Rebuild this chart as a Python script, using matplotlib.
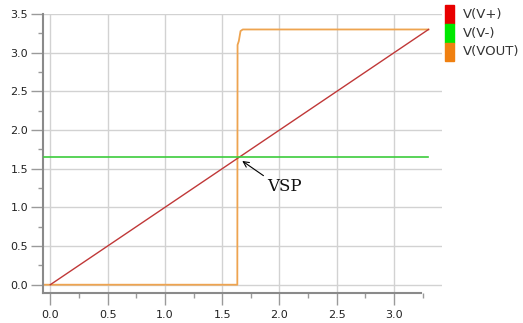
import matplotlib
matplotlib.use("Agg")
import matplotlib.pyplot as plt
from matplotlib.patches import Rectangle
from matplotlib.ticker import MultipleLocator

# Data
vplus_x = [0.0, 3.3]
vplus_y = [0.0, 3.3]
vminus_x = [-0.066, 3.3]
vminus_y = [1.65, 1.65]
vout_x = [-0.066, 1.632, 1.634, 1.645, 1.66, 1.68, 3.3]
vout_y = [0.0, 0.0, 3.10, 3.15, 3.28, 3.30, 3.30]
series_names = ["V(V+)", "V(V-)", "V(VOUT)"]
legend_colors = ["#e80000", "#00e800", "#f08010"]
line_colors = ["#c03838", "#3ccc3c", "#eea450"]
xticks = [0.0, 0.5, 1.0, 1.5, 2.0, 2.5, 3.0]
yticks = [0.0, 0.5, 1.0, 1.5, 2.0, 2.5, 3.0, 3.5]

W, H = 523, 323
fig = plt.figure(figsize=(W / 100, H / 100), dpi=100)
fig.patch.set_facecolor("white")

left, right = 42.7, 442.0
top, bottom = 14.0, 293.3
ax = fig.add_axes([left / W, (H - bottom) / H, (right - left) / W, (bottom - top) / H])
ax.set_xlim(-0.0663, 3.418)
ax.set_ylim(-0.111, 3.5)

ax.plot(vplus_x, vplus_y, color=line_colors[0], lw=1.0, zorder=3)
ax.plot(vminus_x, vminus_y, color=line_colors[1], lw=1.2, zorder=3)
ax.plot(vout_x, vout_y, color=line_colors[2], lw=1.3, zorder=2)

ax.set_xticks(xticks)
ax.set_yticks(yticks)
ax.set_xticklabels([f"{v:.1f}" for v in xticks])
ax.set_yticklabels([f"{v:.1f}" for v in yticks])
ax.xaxis.set_minor_locator(MultipleLocator(0.25))
ax.yaxis.set_minor_locator(MultipleLocator(0.25))
ax.grid(True, which="major", color="#d2d2d2", lw=1.0, zorder=0)
ax.set_axisbelow(True)

for s in ["top", "right"]:
    ax.spines[s].set_visible(False)
ax.spines["bottom"].set_bounds(-0.0663, 3.235)
ax.spines["bottom"].set_color("#8a8a8a")
ax.spines["left"].set_color("#8a8a8a")
ax.spines["bottom"].set_linewidth(1.5)
ax.spines["left"].set_linewidth(1.5)

ax.tick_params(axis="both", which="major", length=8.6, width=1.0, color="#9a9a9a",
               labelsize=8, labelcolor="#222222")
ax.tick_params(axis="both", which="minor", length=3.6, width=1.0, color="#9a9a9a")
ax.tick_params(axis="y", which="major", pad=2)
ax.tick_params(axis="x", which="major", pad=3.5)

# annotation
ax.annotate("", xy=(1.675, 1.60), xytext=(1.86, 1.41),
            arrowprops=dict(arrowstyle="->", color="black", lw=0.8,
                            shrinkA=0, shrinkB=0))
ax.text(1.89, 1.27, "VSP", family="DejaVu Serif", fontsize=12, va="center",
        ha="left", color="#111111")

# legend
bar_x0, bar_w = 445, 8.5
ys = [5, 24, 43, 61]
for i, name in enumerate(series_names):
    y0, y1 = ys[i], ys[i + 1]
    fig.patches.append(Rectangle((bar_x0 / W, (H - y1) / H), bar_w / W, (y1 - y0) / H,
                                 transform=fig.transFigure, color=legend_colors[i]))
    fig.text(463 / W, (H - (y0 + y1) / 2) / H, name, fontsize=9.5, va="center",
             ha="left", color="#333333")

fig.savefig("out.png", dpi=100)
